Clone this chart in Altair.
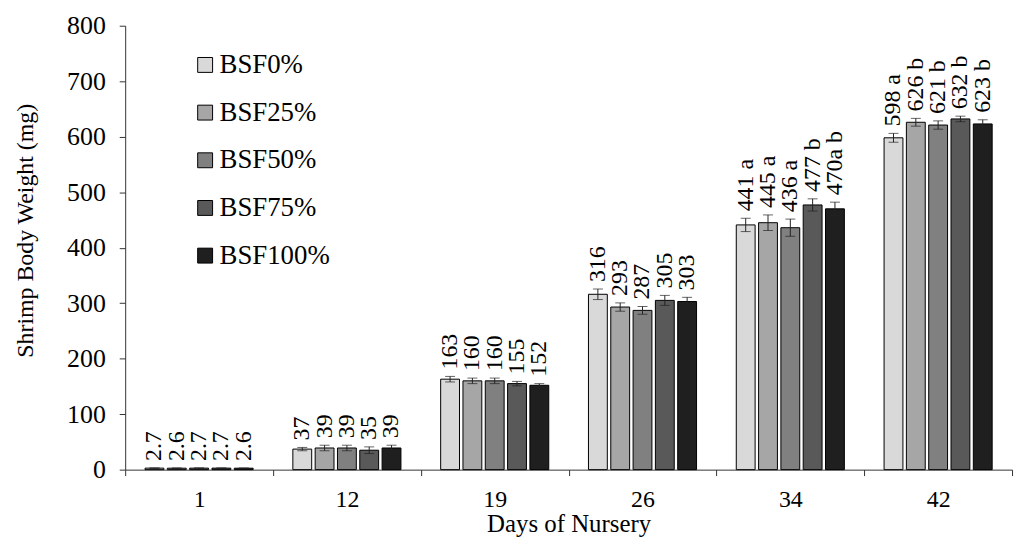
import altair as alt
import pandas as pd

days = ["1", "12", "19", "26", "34", "42"]
groups = ["BSF0%", "BSF25%", "BSF50%", "BSF75%", "BSF100%"]
colors = ["#d9d9d9", "#a6a6a6", "#808080", "#595959", "#1f1f1f"]

bsf0 = [2.7, 37, 163, 316, 441, 598]
bsf25 = [2.6, 39, 160, 293, 445, 626]
bsf50 = [2.7, 39, 160, 287, 436, 621]
bsf75 = [2.7, 35, 155, 305, 477, 632]
bsf100 = [2.6, 39, 152, 303, 470, 623]

err0 = [0.3, 3, 5, 9.5, 12, 8]
err25 = [0.3, 5, 5, 7.5, 14, 7]
err50 = [0.3, 5, 5, 7, 15.5, 7.5]
err75 = [0.3, 6, 4, 9, 11, 5]
err100 = [0.3, 5, 3, 7.5, 12, 7.5]

lab0 = ["2.7", "37", "163", "316", "441 a", "598 a"]
lab25 = ["2.6", "39", "160", "293", "445 a", "626 b"]
lab50 = ["2.7", "39", "160", "287", "436 a", "621 b"]
lab75 = ["2.7", "35", "155", "305", "477 b", "632 b"]
lab100 = ["2.6", "39", "152", "303", "470a b", "623 b"]

vals = [bsf0, bsf25, bsf50, bsf75, bsf100]
errs = [err0, err25, err50, err75, err100]
labs = [lab0, lab25, lab50, lab75, lab100]

rows = []
for g, v, e, l in zip(groups, vals, errs, labs):
    for d, vv, ee, ll in zip(days, v, e, l):
        rows.append({"day": d, "group": g, "value": vv, "lo": vv - ee, "hi": vv + ee, "label": ll})
df = pd.DataFrame(rows)

FONT = "Liberation Serif"

base = alt.Chart(df).encode(
    x=alt.X("day:N", sort=days, scale=alt.Scale(paddingInner=0, paddingOuter=0),
            axis=alt.Axis(title="Days of Nursery", labelAngle=0, tickBand="extent",
                          tickSize=6, labelPadding=12, titleY=62, titleBaseline="alphabetic",
                          domainColor="#333", tickColor="#333",
                          labelFont=FONT, labelFontSize=24, labelColor="black",
                          titleFont=FONT, titleFontSize=25, titleFontWeight="normal",
                          titleColor="black", grid=False)),
    xOffset=alt.XOffset("group:N", sort=groups,
                        scale=alt.Scale(paddingInner=0.155, paddingOuter=0.89)),
)

bars = base.mark_bar(stroke="black", strokeWidth=1).encode(
    y=alt.Y("value:Q", scale=alt.Scale(domain=[0, 800]),
            axis=alt.Axis(title="Shrimp  Body  Weight  (mg)", values=list(range(0, 801, 100)),
                          tickSize=6, labelPadding=14, titlePadding=29, titleY=206,
                          domainColor="#333", tickColor="#333",
                          labelFont=FONT, labelFontSize=26, labelColor="black",
                          titleFont=FONT, titleFontSize=24, titleFontWeight="normal",
                          titleColor="black", grid=False)),
    color=alt.Color("group:N", sort=groups,
                    scale=alt.Scale(domain=groups, range=colors),
                    legend=alt.Legend(title=None, orient="none", legendX=67, legendY=26,
                                      symbolType="square", symbolSize=225,
                                      symbolStrokeColor="black", symbolStrokeWidth=1,
                                      symbolOpacity=1,
                                      labelFont=FONT, labelFontSize=27, labelColor="black",
                                      labelOffset=1, rowPadding=20)),
)

rule = base.mark_rule(color="#222", strokeWidth=1).encode(y="lo:Q", y2="hi:Q")
cap_lo = base.mark_tick(color="#222", size=10, thickness=1).encode(y="lo:Q")
cap_hi = base.mark_tick(color="#222", size=10, thickness=1).encode(y="hi:Q")
text = base.mark_text(angle=270, align="left", baseline="middle", dx=7,
                      font=FONT, fontSize=24, color="black").encode(
    y="hi:Q", text="label:N")

chart = alt.layer(bars, rule, cap_lo, cap_hi, text).properties(
    width=893, height=447,
    autosize=alt.AutoSizeParams(type="none"),
    padding={"left": 118, "top": 16, "right": 4, "bottom": 66},
).configure_view(stroke=None).configure_axis(domainWidth=1)

chart.save("out.html", embed_options={"renderer": "svg", "actions": False})
